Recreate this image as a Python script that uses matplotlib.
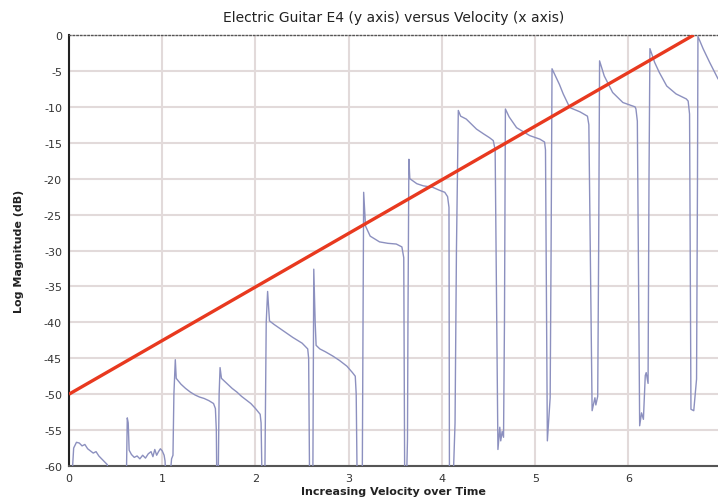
import numpy as np
import matplotlib.pyplot as plt

plt.rcParams['axes.unicode_minus'] = False

# envelope of the recorded notes (time in s, level in dB), values below -60 fall off the chart
trace_x = [
    # note 1
    0.03, 0.05, 0.08, 0.11, 0.14, 0.17, 0.20, 0.23, 0.26, 0.29, 0.32, 0.35, 0.38, 0.41, 0.43,
    # note 2
    0.615, 0.625, 0.635, 0.645, 0.67, 0.70, 0.73, 0.76, 0.79, 0.82, 0.85, 0.88, 0.90, 0.92,
    0.94, 0.96, 0.98, 1.00, 1.02, 1.03, 1.04, 1.08, 1.10, 1.115,
    # note 3
    1.125, 1.14, 1.15, 1.20, 1.25, 1.30, 1.35, 1.40, 1.45, 1.50, 1.55, 1.57, 1.58, 1.585, 1.60,
    # note 4
    1.61, 1.62, 1.635, 1.70, 1.75, 1.80, 1.85, 1.90, 1.95, 2.00, 2.05, 2.06, 2.07, 2.10,
    # note 5
    2.115, 2.13, 2.15, 2.20, 2.30, 2.40, 2.50, 2.53, 2.56, 2.57, 2.58, 2.615,
    # note 6
    2.625, 2.64, 2.65, 2.69, 2.75, 2.83, 2.90, 2.98, 3.04, 3.07, 3.08, 3.09, 3.145,
    # note 7
    3.16, 3.18, 3.23, 3.33, 3.42, 3.51, 3.57, 3.59, 3.60, 3.62, 3.63, 3.635,
    # note 8
    3.645, 3.655, 3.73, 3.80, 3.90, 3.97, 4.03, 4.06, 4.075, 4.08, 4.12, 4.14, 4.155,
    # note 9
    4.175, 4.20, 4.26, 4.37, 4.45, 4.51, 4.55, 4.57, 4.60, 4.62, 4.63, 4.645, 4.66, 4.67,
    # note 10
    4.68, 4.72, 4.80, 4.94, 5.05, 5.10, 5.11, 5.13, 5.16, 5.17,
    # note 11
    5.18, 5.22, 5.26, 5.30, 5.37, 5.48, 5.56, 5.575, 5.61, 5.64, 5.65, 5.67, 5.68,
    # note 12
    5.69, 5.74, 5.83, 5.94, 6.07, 6.08, 6.095, 6.12, 6.14, 6.16, 6.18, 6.19, 6.21, 6.22,
    # note 13
    6.23, 6.28, 6.33, 6.41, 6.51, 6.62, 6.64, 6.655, 6.67, 6.70, 6.73, 6.74,
    # note 14
    6.745, 6.80, 6.87, 6.96, 7.00,
]
trace_y = [
    -62, -57.5, -56.7, -56.8, -57.2, -57.0, -57.6, -57.9, -58.2, -58.0, -58.6, -59.0, -59.4, -59.8, -62,
    -62, -53.3, -54.0, -57.8, -58.4, -58.8, -58.6, -59.0, -58.5, -58.9, -58.3, -58.0, -58.7, -57.7,
    -58.5, -58.0, -57.6, -57.9, -58.5, -59.3, -62, -62, -59.0, -58.5,
    -50.0, -45.2, -47.8, -48.6, -49.2, -49.7, -50.1, -50.4, -50.6, -50.9, -51.3, -52.0, -55.0, -62, -62,
    -50.0, -46.3, -47.8, -48.6, -49.2, -49.7, -50.3, -50.8, -51.3, -52.0, -52.8, -54.0, -62, -62,
    -40.0, -35.7, -39.8, -40.3, -41.2, -42.1, -42.9, -43.3, -43.7, -45.0, -62, -62,
    -32.6, -40.0, -43.2, -43.7, -44.1, -44.7, -45.3, -46.1, -47.0, -47.5, -50.0, -62, -62,
    -21.9, -26.6, -28.0, -28.8, -29.0, -29.1, -29.5, -31.0, -62, -62, -56.3, -40.0,
    -17.3, -20.0, -20.7, -21.0, -21.2, -21.6, -21.9, -22.5, -24.0, -62, -62, -54.0, -30.0,
    -10.5, -11.3, -11.7, -13.1, -13.8, -14.3, -14.7, -16.0, -57.7, -54.6, -56.5, -55.2, -56.0, -40.0,
    -10.3, -11.4, -12.9, -14.0, -14.5, -14.9, -16.0, -56.5, -50.5, -30.0,
    -4.7, -5.8, -6.9, -8.2, -10.1, -10.7, -11.3, -12.5, -52.3, -50.5, -51.5, -50.3, -30.0,
    -3.6, -5.7, -8.0, -9.4, -10.0, -10.3, -12.0, -54.4, -52.6, -53.5, -47.4, -47.0, -48.5, -20.0,
    -1.9, -3.8, -5.2, -7.1, -8.2, -8.9, -9.2, -11.0, -52.1, -52.3, -47.9, -20.0,
    -0.2, -1.9, -3.8, -6.1, -6.6,
]

# straight reference line
trend_x = [0, 6.7]
trend_y = [-50, 0]

x_ticks = [0, 1, 2, 3, 4, 5, 6]
y_ticks = [0, -5, -10, -15, -20, -25, -30, -35, -40, -45, -50, -55, -60]

fig = plt.figure(figsize=(7.18, 5.02), dpi=100)
ax = fig.add_axes([0.0961, 0.0697, 0.9039, 0.8586])

ax.plot(trace_x, trace_y, color='#8c90bf', lw=1.0, zorder=3)
ax.plot(trend_x, trend_y, color='#e8391f', lw=2.4, solid_capstyle='butt', zorder=4)

ax.set_xlim(0, 6.96)
ax.set_ylim(-60, 0)
ax.set_xticks(x_ticks)
ax.set_yticks(y_ticks)
ax.set_xticklabels([str(t) for t in x_ticks])
ax.set_yticklabels([str(t) for t in y_ticks])
ax.tick_params(length=0, labelsize=8, colors='#333333', pad=5)
ax.grid(True, color='#e2dada', lw=1.5)
ax.set_axisbelow(True)

ax.spines['right'].set_visible(False)
ax.spines['top'].set_linestyle(':')
ax.spines['top'].set_color('#555555')
ax.spines['top'].set_linewidth(1.0)
ax.spines['left'].set_color('#222222')
ax.spines['left'].set_linewidth(1.5)
ax.spines['bottom'].set_color('#555555')
ax.spines['bottom'].set_linewidth(1.5)

fig.text(0.548, 0.964, 'Electric Guitar E4 (y axis) versus Velocity (x axis)',
         ha='center', va='center', fontsize=10, color='#222222')
ax.set_xlabel('Increasing Velocity over Time', fontsize=8, fontweight='bold',
              color='#222222', labelpad=2)
ax.set_ylabel('Log Magnitude (dB)', fontsize=8, fontweight='bold',
              color='#222222', labelpad=14)

fig.savefig('out.png', dpi=100)
